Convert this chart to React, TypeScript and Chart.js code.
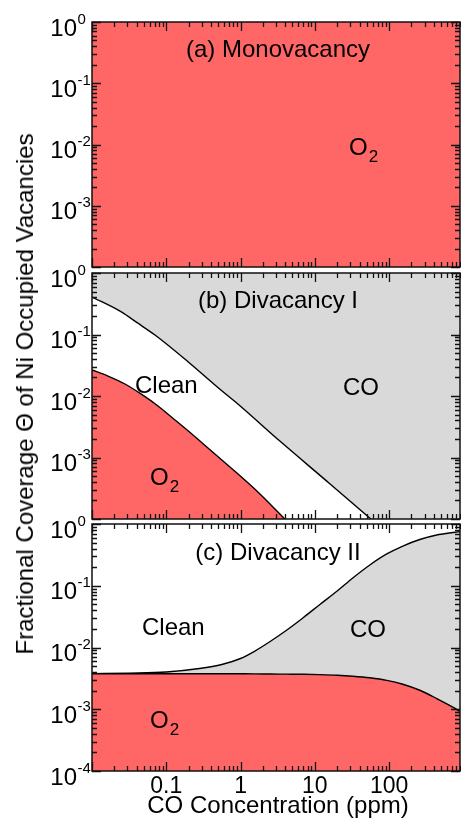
import React, { useEffect, useRef } from "react";
import { Chart, registerables } from "chart.js";

Chart.register(...registerables);

const FONT = '"Liberation Sans", Arial, Helvetica, sans-serif';
const RED = "#FF6666";
const GRAY = "#D9D9D9";
const FRAME = "#111111";

// Axis ranges
const X_MIN = 0.01;
const X_MAX = 900;
const Y_MIN = 1e-4;
const Y_MAX = 1;

// Tick labels
const xTickValues = [0.1, 1, 10, 100];
const xTickLabels = ["0.1", "1", "10", "100"];
const yTickExpsTop = [0, -1, -2, -3];
const yTickExpsBottom = [0, -1, -2, -3, -4];

// (a) Monovacancy: O2 everywhere
const monoX = [0.01, 900];
const monoO2 = [1, 1];

// (b) Divacancy I  (boundaries continue below the frame on the right)
const divIUpperX = [0.01, 0.0245, 0.04, 0.0705, 0.196, 0.543, 0.92, 3.38, 15.9, 56.8, 900];
const divIUpperY = [0.407, 0.235, 0.157, 0.098, 0.0361, 0.0125, 0.00741, 0.00185, 0.000375, 0.0001, 0.0000056];
const divILowerX = [0.01, 0.0164, 0.0278, 0.0456, 0.0773, 0.131, 0.221, 0.364, 0.72, 1.71, 3.95, 10];
const divILowerY = [0.0265, 0.0211, 0.01567, 0.0108, 0.00688, 0.00407, 0.00241, 0.00143, 0.000701, 0.000275, 0.0001, 0.000033];

// (c) Divacancy II
const divIIX = [0.01, 0.0324, 0.1, 0.28, 0.56, 1, 1.56, 2.5, 4.2, 6.9, 11.7, 20, 32.4, 55, 93, 153, 259, 438, 731, 900];
const divIIO2 = [0.00376, 0.00376, 0.00376, 0.00376, 0.00376, 0.00375, 0.00374, 0.00372, 0.0037, 0.00368, 0.00364, 0.00356, 0.00343, 0.00323, 0.00294, 0.00254, 0.00203, 0.00149, 0.00107, 0.00092];
const divIICO = [0.00376, 0.00384, 0.00401, 0.00457, 0.00531, 0.00664, 0.00877, 0.0125, 0.0192, 0.0301, 0.0497, 0.0822, 0.1336, 0.217, 0.327, 0.44, 0.561, 0.664, 0.728, 0.756];

const pts = (xs: number[], ys: number[]) => xs.map((x, i) => ({ x, y: ys[i] }));

type Note = { text: string; sub?: string; dx: number; dy: number; align: "left" | "center" };

function logTickValues(min: number, max: number) {
  const out: { v: number; major: boolean }[] = [];
  const k0 = Math.floor(Math.log10(min) + 1e-9);
  const k1 = Math.ceil(Math.log10(max) - 1e-9);
  for (let k = k0; k <= k1; k++) {
    for (let m = 1; m <= 9; m++) {
      const v = m * Math.pow(10, k);
      if (v >= min * 0.999 && v <= max * 1.001) out.push({ v, major: m === 1 });
    }
  }
  return out;
}

const decoPlugin = {
  id: "deco",
  afterDraw(chart: any, _args: any, opts: any) {
    const ctx: CanvasRenderingContext2D = chart.ctx;
    const a = chart.chartArea;
    const xs = chart.scales.x;
    const ys = chart.scales.y;
    ctx.save();

    // inward ticks on all four sides
    ctx.beginPath();
    const xt = logTickValues(X_MIN, X_MAX);
    for (let i = 0; i < xt.length; i++) {
      const px = Math.round(Number(xs.getPixelForValue(xt[i].v))) + 0.5;
      const len = xt[i].major ? 9 : 5;
      ctx.moveTo(px, a.top);
      ctx.lineTo(px, a.top + len);
      ctx.moveTo(px, a.bottom);
      ctx.lineTo(px, a.bottom - len);
    }
    const yt = logTickValues(Y_MIN, Y_MAX);
    for (let i = 0; i < yt.length; i++) {
      const py = Math.round(Number(ys.getPixelForValue(yt[i].v))) + 0.5;
      const len = yt[i].major ? 9 : 5;
      ctx.moveTo(a.left, py);
      ctx.lineTo(a.left + len, py);
      ctx.moveTo(a.right, py);
      ctx.lineTo(a.right - len, py);
    }
    ctx.lineWidth = 1.3;
    ctx.strokeStyle = FRAME;
    ctx.stroke();

    // frame
    ctx.lineWidth = 1.5;
    ctx.strokeRect(a.left, a.top, a.right - a.left, a.bottom - a.top);

    ctx.fillStyle = "#000";
    // y tick labels: 10 with superscript exponent
    for (const e of opts.yExps as number[]) {
      const py = ys.getPixelForValue(Math.pow(10, e));
      ctx.font = `24px ${FONT}`;
      ctx.textAlign = "right";
      ctx.textBaseline = "alphabetic";
      ctx.fillText("10", a.left - 15, py + 13.5);
      ctx.font = `15px ${FONT}`;
      ctx.textAlign = "left";
      ctx.fillText(String(e), a.left - 14.5, py + 1.5);
    }
    // x tick labels
    if (opts.xLabels) {
      ctx.font = `23px ${FONT}`;
      ctx.textAlign = "center";
      ctx.textBaseline = "alphabetic";
      xTickValues.forEach((v, i) => {
        ctx.fillText(xTickLabels[i], xs.getPixelForValue(v), a.bottom + 22);
      });
    }
    if (opts.xTitle) {
      ctx.font = `24px ${FONT}`;
      ctx.textAlign = "center";
      ctx.fillText(opts.xTitle, (a.left + a.right) / 2 + 2, a.bottom + 42);
    }
    // annotations
    for (const n of (opts.notes || []) as Note[]) {
      ctx.font = `24px ${FONT}`;
      ctx.textAlign = n.align;
      ctx.textBaseline = "alphabetic";
      const x = n.align === "center" ? (a.left + a.right) / 2 + n.dx : a.left + n.dx;
      const y = a.top + n.dy;
      ctx.fillText(n.text, x, y);
      if (n.sub) {
        const w = ctx.measureText(n.text).width;
        ctx.font = `17px ${FONT}`;
        ctx.textAlign = "left";
        ctx.fillText(n.sub, x + w + 1, y + 7);
      }
    }
    ctx.restore();
  },
};

function makeConfig(datasets: any[], deco: any, padding: any) {
  return {
    type: "line" as const,
    data: { datasets },
    options: {
      animation: false as const,
      responsive: false,
      devicePixelRatio: 1,
      events: [] as any[],
      layout: { padding },
      plugins: {
        legend: { display: false },
        tooltip: { enabled: false },
        title: { display: false },
        deco,
      },
      elements: {
        point: { radius: 0 },
        line: { borderColor: "#000", borderWidth: 1.4, cubicInterpolationMode: "monotone" as const },
      },
      scales: {
        x: { type: "logarithmic" as const, min: X_MIN, max: X_MAX, display: false },
        y: { type: "logarithmic" as const, min: Y_MIN, max: Y_MAX, display: false },
      },
    },
    plugins: [decoPlugin],
  };
}

export default function App() {
  const refA = useRef<HTMLCanvasElement>(null);
  const refB = useRef<HTMLCanvasElement>(null);
  const refC = useRef<HTMLCanvasElement>(null);

  useEffect(() => {
    const charts: Chart[] = [];
    charts.push(
      new Chart(
        refA.current!,
        makeConfig(
          [
            { label: "O2", data: pts(monoX, monoO2), fill: "start", backgroundColor: RED, borderWidth: 0 },
          ],
          {
            yExps: yTickExpsTop,
            notes: [
              { text: "(a) Monovacancy", dx: 2, dy: 35, align: "center" },
              { text: "O", sub: "2", dx: 257, dy: 133, align: "left" },
            ],
          },
          { top: 22, bottom: 5, left: 92, right: 1 }
        ) as any
      )
    );
    charts.push(
      new Chart(
        refB.current!,
        makeConfig(
          [
            { label: "O2 boundary", data: pts(divILowerX, divILowerY), fill: "start", backgroundColor: RED },
            { label: "CO boundary", data: pts(divIUpperX, divIUpperY), fill: "end", backgroundColor: GRAY },
          ],
          {
            yExps: yTickExpsTop,
            notes: [
              { text: "(b) Divacancy I", dx: 2, dy: 35, align: "center" },
              { text: "Clean", dx: 43, dy: 120, align: "left" },
              { text: "CO", dx: 251, dy: 122, align: "left" },
              { text: "O", sub: "2", dx: 58, dy: 212, align: "left" },
            ],
          },
          { top: 23, bottom: 3, left: 92, right: 1 }
        ) as any
      )
    );
    charts.push(
      new Chart(
        refC.current!,
        makeConfig(
          [
            { label: "O2 boundary", data: pts(divIIX, divIIO2), fill: "start", backgroundColor: RED },
            { label: "CO boundary", data: pts(divIIX, divIICO), fill: "-1", backgroundColor: GRAY },
          ],
          {
            yExps: yTickExpsBottom,
            xLabels: true,
            xTitle: "CO Concentration (ppm)",
            notes: [
              { text: "(c) Divacancy II", dx: 2, dy: 36, align: "center" },
              { text: "Clean", dx: 50, dy: 111, align: "left" },
              { text: "CO", dx: 258, dy: 113, align: "left" },
              { text: "O", sub: "2", dx: 58, dy: 204, align: "left" },
            ],
          },
          { top: 24, bottom: 54, left: 92, right: 1 }
        ) as any
      )
    );
    return () => charts.forEach((c) => c.destroy());
  }, []);

  return (
    <div style={{ position: "absolute", left: 0, top: 0, width: 461, height: 825, background: "#fff", overflow: "hidden" }}>
      <canvas ref={refA} width={461} height={272} style={{ position: "absolute", left: 0, top: 0 }} />
      <canvas ref={refB} width={461} height={272} style={{ position: "absolute", left: 0, top: 250 }} />
      <canvas ref={refC} width={461} height={325} style={{ position: "absolute", left: 0, top: 500 }} />
      <div
        style={{
          position: "absolute",
          left: 25,
          top: 394,
          transform: "translate(-50%, -50%) rotate(-90deg)",
          whiteSpace: "nowrap",
          font: `24px ${FONT}`,
          lineHeight: "24px",
          color: "#000",
        }}
      >
        Fractional Coverage Θ of Ni Occupied Vacancies
      </div>
    </div>
  );
}
